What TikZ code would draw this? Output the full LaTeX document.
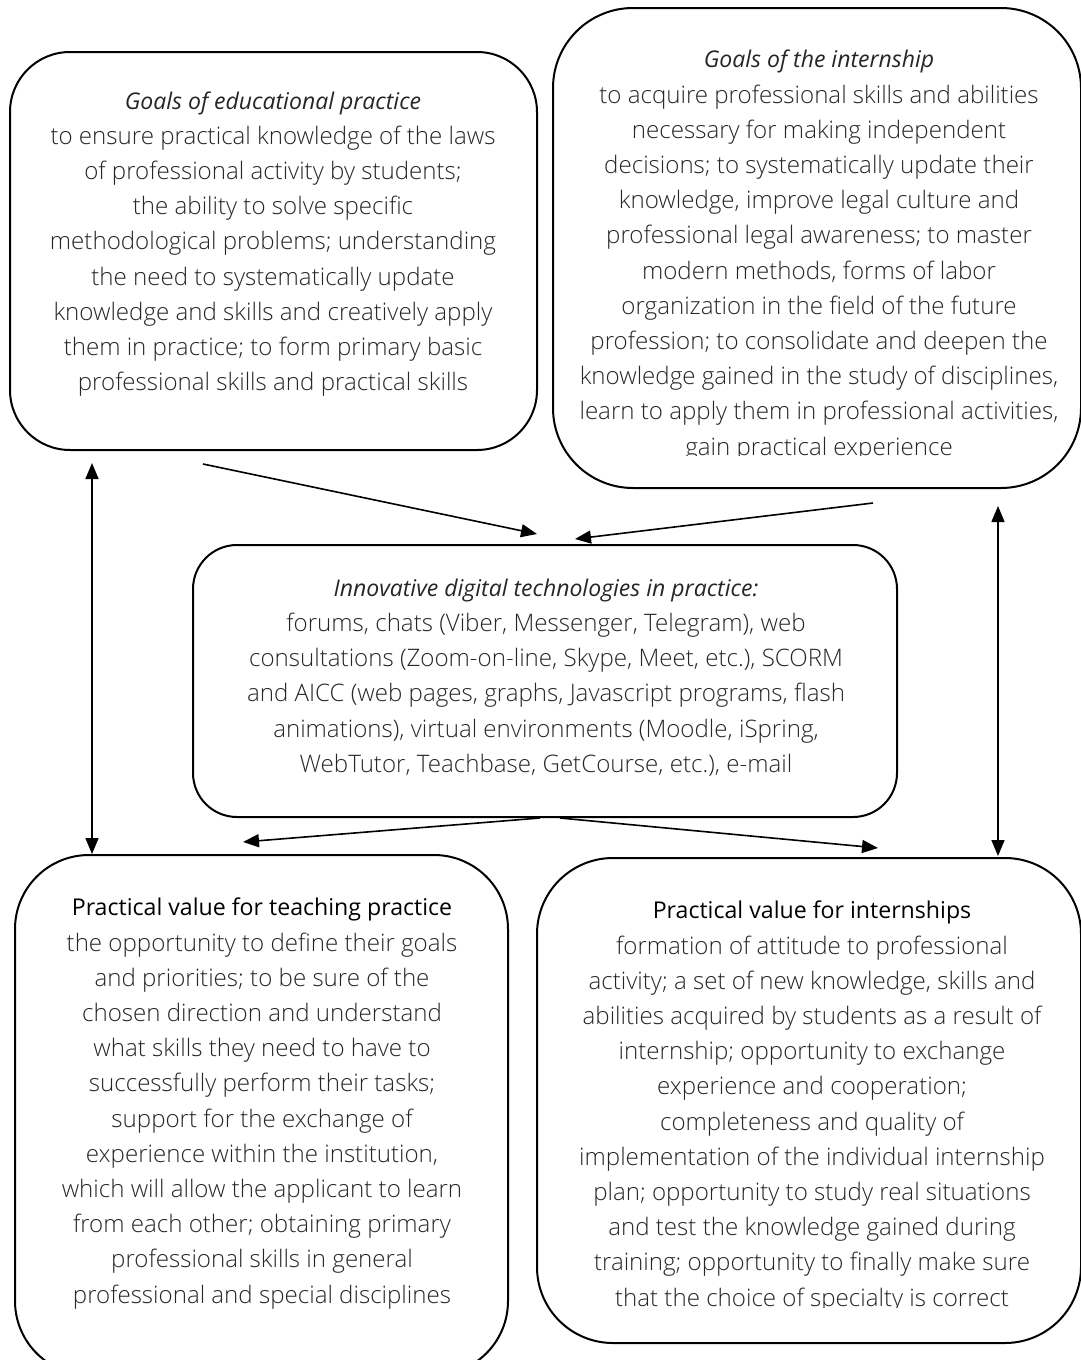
\documentclass[tikz,border=0pt]{standalone}
\usepackage{fontspec}
\IfFontExistsTF{Open Sans Light}{%
    \setmainfont{Open Sans Light}[ItalicFont={Open Sans Italic}, ItalicFeatures={Scale=0.955},
        BoldFont={Open Sans}, BoldFeatures={Scale=0.96}]}{%
    \setmainfont{Open Sans}}
\usetikzlibrary{positioning}
\usetikzlibrary{arrows.meta}
\usetikzlibrary{calc}

\begin{document}
\begin{tikzpicture}[
        x=0.5pt, y=-0.5pt,
        box/.style={rectangle, draw, line width=1pt, inner sep=0pt},
        txt/.style={align=center, inner sep=0pt, text=black!85, font=\fontsize{12.05}{17.6}\selectfont},
        arrow/.style={-{Triangle[length=8pt,width=6.5pt]}, line width=0.8pt},
        twoway/.style={{Triangle[length=8pt,width=6.5pt]}-{Triangle[length=8pt,width=6.5pt]}, line width=0.8pt}
    ]
    \useasboundingbox (0,0) rectangle (1081,1360);
    \clip (0,0) rectangle (1081,1360);

    % Boxes
    \node[box, rounded corners=30pt, minimum width=263.5pt, minimum height=199pt] (goaledu) at (273.5,251) {};
    \node[box, rounded corners=40pt, minimum width=264pt, minimum height=240pt] (goalint) at (817,248) {};
    \node[box, rounded corners=22pt, minimum width=352pt, minimum height=136pt] (digital) at (545,681) {};
    \node[box, rounded corners=37pt, minimum width=246.5pt, minimum height=260pt] (valteach) at (261.5,1115) {};
    \node[box, rounded corners=38pt, minimum width=272pt, minimum height=242.5pt] (valint) at (809,1100.5) {};

    % Texts
    \node[txt] (goaledutxt) at (273,244) {\textit{Goals of educational practice}\\
        to ensure practical knowledge of the laws\\
        of professional activity by students;\\
        the ability to solve specific\\
        methodological problems; understanding\\
        the need to systematically update\\
        knowledge and skills and creatively apply\\
        them in practice; to form primary basic\\
        professional skills and practical skills};

    \begin{scope}
        \clip (553,8) rectangle (1081,455);
        \node[txt] (goalinttxt) at (819,255.5) {\textit{Goals of the internship}\\
            to acquire professional skills and abilities\\
            necessary for making independent\\
            decisions; to systematically update their\\
            knowledge, improve legal culture and\\
            professional legal awareness; to master\\
            modern methods, forms of labor\\
            organization in the field of the future\\
            profession; to consolidate and deepen the\\
            knowledge gained in the study of disciplines,\\
            learn to apply them in professional activities,\\
            gain practical experience};
    \end{scope}

    \node[txt] (digitaltxt) at (546,677.5) {\textit{Innovative digital technologies in practice:}\\
        forums, chats (Viber, Messenger, Telegram), web\\
        consultations (Zoom-on-line, Skype, Meet, etc.), SCORM\\
        and AICC (web pages, graphs, Javascript programs, flash\\
        animations), virtual environments (Moodle, iSpring,\\
        WebTutor, Teachbase, GetCourse, etc.), e-mail};

    \node[txt] (valteachtxt) at (262,1103.5) {{\bfseries\color{black}Practical value for teaching practice}\\
        the opportunity to define their goals\\
        and priorities; to be sure of the\\
        chosen direction and understand\\
        what skills they need to have to\\
        successfully perform their tasks;\\
        support for the exchange of\\
        experience within the institution,\\
        which will allow the applicant to learn\\
        from each other; obtaining primary\\
        professional skills in general\\
        professional and special disciplines};

    \begin{scope}
        \clip (537,858) rectangle (1081,1307);
        \node[txt] (valinttxt) at (812,1106.5) {{\bfseries\color{black}Practical value for internships}\\
            formation of attitude to professional\\
            activity; a set of new knowledge, skills and\\
            abilities acquired by students as a result of\\
            internship; opportunity to exchange\\
            experience and cooperation;\\
            completeness and quality of\\
            implementation of the individual internship\\
            plan; opportunity to study real situations\\
            and test the knowledge gained during\\
            training; opportunity to finally make sure\\
            that the choice of specialty is correct};
    \end{scope}

    % Connectors
    \draw[arrow] ([shift={(-70.5,13)}]goaledu.south) -- ([shift={(-8,-10)}]digital.north);
    \draw[arrow] ([shift={(56,14)}]goalint.south) -- ([shift={(30,-5)}]digital.north);
    \draw[arrow] ([shift={(-5,0)}]digital.south) -- ([shift={(-18.5,-12)}]valteach.north);
    \draw[arrow] ([shift={(15,0)}]digital.south) -- ([shift={(69,-9)}]valint.north);

    % Two-way links
    \draw[twoway] ([shift={(-181.5,12)}]goaledu.south) -- ([shift={(-169.5,0)}]valteach.north);
    \draw[twoway] ([shift={(181,17)}]goalint.south) -- ([shift={(189,-1)}]valint.north);

\end{tikzpicture}
\end{document}
